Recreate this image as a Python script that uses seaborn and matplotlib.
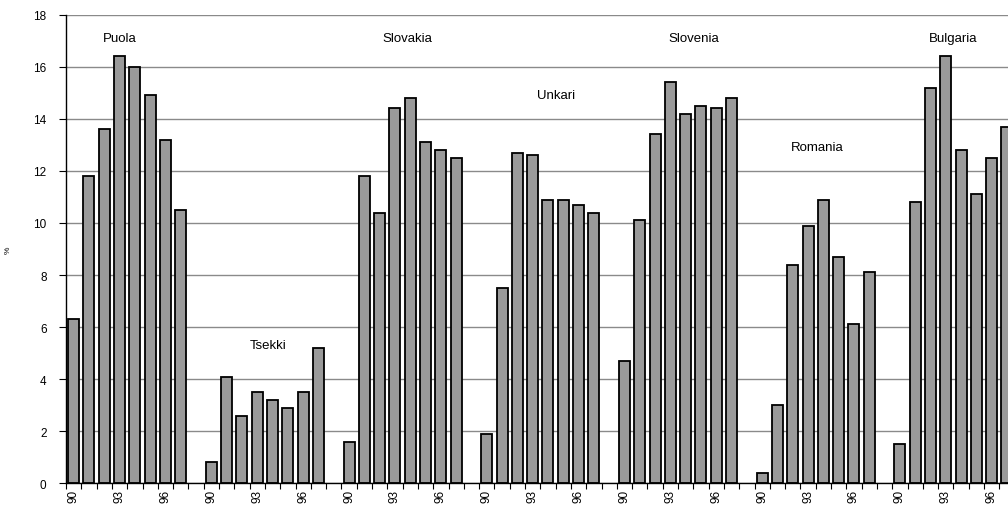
import numpy as np
import pandas as pd
import matplotlib
matplotlib.use("Agg")
import matplotlib.pyplot as plt
import seaborn as sns
from matplotlib.transforms import ScaledTranslation

# Annual values (%) per country, years 1990-1998
countries = ["Puola", "Tsekki", "Slovakia", "Unkari", "Slovenia", "Romania", "Bulgaria"]
years = ["90", "91", "92", "93", "94", "95", "96", "97", "98"]
puola = [6.3, 11.8, 13.6, 16.4, 16.0, 14.9, 13.2, 10.5, np.nan]
tsekki = [0.8, 4.1, 2.6, 3.5, 3.2, 2.9, 3.5, 5.2, np.nan]
slovakia = [1.6, 11.8, 10.4, 14.4, 14.8, 13.1, 12.8, 12.5, np.nan]
unkari = [1.9, 7.5, 12.7, 12.6, 10.9, 10.9, 10.7, 10.4, np.nan]
slovenia = [4.7, 10.1, 13.4, 15.4, 14.2, 14.5, 14.4, 14.8, np.nan]
romania = [0.4, 3.0, 8.4, 9.9, 10.9, 8.7, 6.1, 8.1, np.nan]
bulgaria = [1.5, 10.8, 15.2, 16.4, 12.8, 11.1, 12.5, 13.7, np.nan]
labelled_years = ["90", "93", "96"]
y_ticks = [0, 2, 4, 6, 8, 10, 12, 14, 16, 18]

series = [puola, tsekki, slovakia, unkari, slovenia, romania, bulgaria]

rows = []
for country, vals in zip(countries, series):
    for year, v in zip(years, vals):
        rows.append({"key": f"{country} {year}", "country": country,
                     "year": year, "value": v})
df = pd.DataFrame(rows)
order = list(df["key"])

sns.set_style("white")
plt.rcParams["font.family"] = ["Liberation Sans", "DejaVu Sans"]
plt.rcParams["text.color"] = "black"
plt.rcParams["xtick.color"] = "black"
plt.rcParams["ytick.color"] = "black"
plt.rcParams["axes.labelcolor"] = "black"

W, H = 1008, 506
fig = plt.figure(figsize=(W / 100, H / 100), dpi=100)
# plot area runs past the right edge of the figure
slot_px = 15.3
ax = fig.add_axes([66 / W, 21.7 / H, len(order) * slot_px / W, 468.6 / H])

sns.barplot(data=df, x="key", y="value", order=order, color="#9a9a9a",
            saturation=1, width=0.72, edgecolor="black", linewidth=1.3,
            errorbar=None, ax=ax)

n = len(order)
ax.set_xlim(-0.5, n - 0.5)
ax.set_ylim(0, 18)
ax.set_yticks(y_ticks)
ax.set_yticklabels([str(t) for t in y_ticks], fontsize=8.5)
ax.yaxis.grid(True, color="#8a8a8a", linewidth=1)
ax.xaxis.grid(False)
ax.set_axisbelow(True)

# tick marks at every slot boundary, labels on selected years
ax.set_xticks(np.arange(n + 1) - 0.5)
ax.set_xticklabels([])
lab_pos = [i for i, k in enumerate(order) if k.split()[-1] in labelled_years]
lab_txt = [order[i].split()[-1] for i in lab_pos]
ax.set_xticks(lab_pos, minor=True)
ax.set_xticklabels(lab_txt, minor=True, rotation=90, fontsize=8.5)
shift = ScaledTranslation(-6 / 100, 0, fig.dpi_scale_trans)
for lab in ax.get_xticklabels(minor=True):
    lab.set_transform(lab.get_transform() + shift)

ax.tick_params(axis="x", which="major", length=4, width=0.8, direction="out",
               color="black", bottom=True)
ax.tick_params(axis="x", which="minor", length=0, pad=4, bottom=True)
ax.tick_params(axis="y", length=5, width=0.8, direction="out", color="black",
               pad=9, left=True)

for side in ["top", "right"]:
    ax.spines[side].set_visible(False)
for side in ["left", "bottom"]:
    ax.spines[side].set_color("black")
    ax.spines[side].set_linewidth(1.0)

ax.set_xlabel("")
ax.set_ylabel("%", fontsize=6, rotation=90)
ax.yaxis.set_label_coords(-0.056, 0.5)

# country names above their groups
name_pos = {
    "Puola": (3.0, 17.1),
    "Tsekki": (12.7, 5.3),
    "Slovakia": (21.8, 17.1),
    "Unkari": (31.5, 14.9),
    "Slovenia": (40.5, 17.1),
    "Romania": (48.6, 12.9),
    "Bulgaria": (57.5, 17.1),
}
for name in countries:
    x, y = name_pos[name]
    ax.text(x, y, name, ha="center", va="center", fontsize=9.5)

fig.savefig("out.png", dpi=100)
